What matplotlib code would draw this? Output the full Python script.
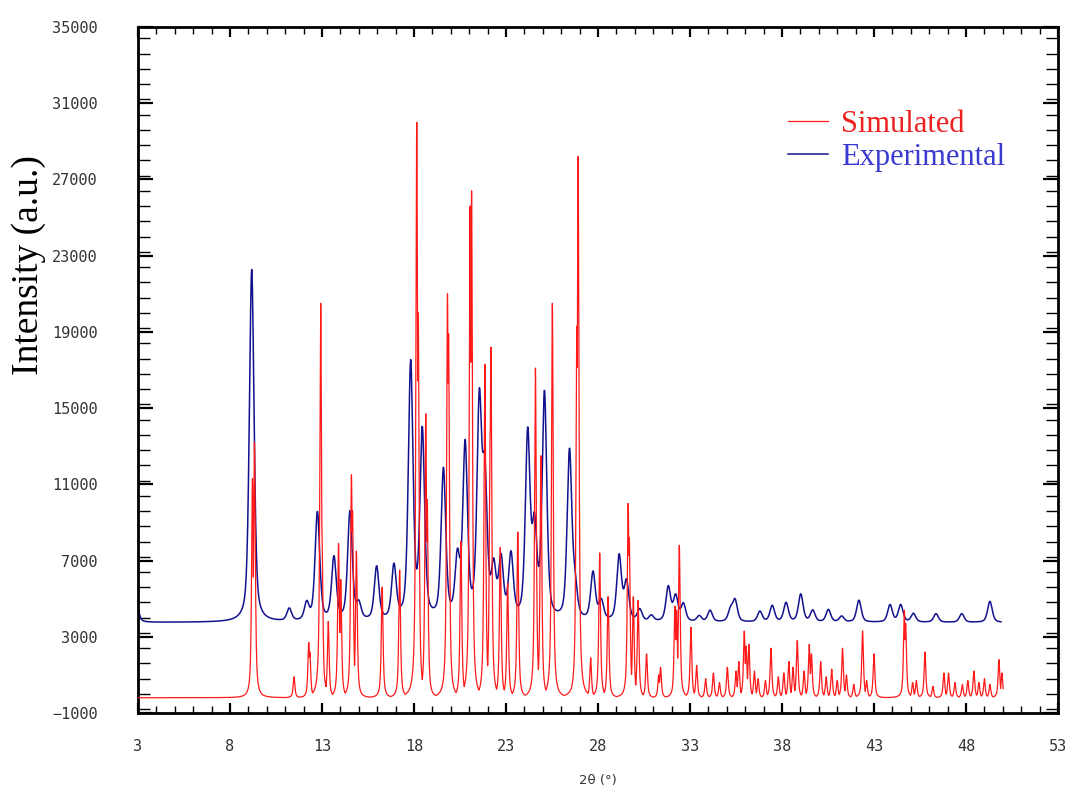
import numpy as np
import matplotlib.pyplot as plt
from matplotlib.ticker import MultipleLocator

# --- data (peak position in 2theta, height above baseline) ---
sim_pos = [9.22, 9.33, 11.48, 12.28, 12.34, 12.93, 13.00, 13.34, 13.90, 14.02,
           14.60, 14.66, 14.87, 16.27, 17.22, 18.15, 18.23, 18.64, 18.72, 19.82,
           19.88, 20.55, 21.05, 21.13, 21.85, 22.14, 22.18, 22.69, 23.09, 23.64,
           24.60, 24.90, 25.52, 26.85, 26.92, 27.60, 28.09, 28.55, 29.64, 29.70,
           29.92, 30.18, 30.64, 31.30, 31.40, 32.18, 32.27, 32.42, 33.05, 33.36,
           33.85, 34.27, 34.60, 35.03, 35.50, 35.65, 35.95, 36.05, 36.20, 36.50,
           36.70, 37.10, 37.40, 37.80, 38.10, 38.37, 38.60, 38.83, 39.20, 39.48,
           39.60, 40.10, 40.40, 40.70, 41.00, 41.29, 41.50, 41.90, 42.38, 42.60,
           43.00, 44.65, 44.72, 45.10, 45.30, 45.77, 46.20, 46.80, 47.05, 47.40,
           47.80, 48.10, 48.43, 48.70, 49.00, 49.30, 49.79, 49.95]
sim_height = [11500, 13400, 1100, 2900, 2400, 20700, 8800, 4000, 8100, 6200,
              11700, 9800, 7700, 5800, 6700, 30200, 20200, 14900, 10400, 21200,
              19100, 8200, 25800, 26600, 17500, 13900, 18400, 7900, 6000, 8700,
              17300, 12700, 20700, 19500, 28400, 2100, 7600, 5300, 10200, 8400,
              5300, 5100, 2300, 1200, 1600, 4800, 4600, 8000, 3700, 1700,
              1000, 1300, 800, 1600, 1400, 1900, 3500, 2700, 2800, 1400,
              1000, 900, 2600, 1100, 1300, 1900, 1600, 3000, 1400, 2800,
              2300, 1900, 1100, 1500, 900, 2600, 1200, 700, 3500, 900,
              2300, 4600, 3900, 800, 900, 2400, 600, 1300, 1300, 800,
              700, 900, 1400, 800, 1000, 700, 2000, 1300]
sim_base = -200

exp_pos = [2.90, 9.18, 11.22, 12.17, 12.75, 13.65, 14.52, 15.00, 15.97, 16.91,
           17.82, 18.45, 19.60, 20.36, 20.78, 21.55, 21.85, 22.33, 22.73, 23.27,
           24.18, 24.55, 25.09, 26.45, 26.75, 27.73, 28.18, 29.15, 29.55, 30.27,
           30.90, 31.82, 32.22, 32.64, 33.50, 34.09, 35.20, 35.45, 36.80, 37.47,
           38.22, 39.02, 39.67, 40.52, 41.24, 42.18, 43.87, 44.45, 45.14, 46.37,
           47.77, 49.30]
exp_height = [1100, 18500, 650, 900, 5700, 3300, 5700, 800, 2800, 2800,
              13400, 9800, 7800, 3000, 9000, 11000, 7000, 2500, 3000, 3300,
              9600, 4500, 11800, 8800, 1500, 2500, 1000, 3400, 2000, 600,
              300, 1800, 1300, 900, 300, 600, 600, 1100, 550, 850,
              1000, 1450, 600, 650, 300, 1150, 900, 900, 450, 450,
              450, 1100]
exp_base = 3750

x_ticks = [3, 8, 13, 18, 23, 28, 33, 38, 43, 48, 53]
y_ticks = [-1000, 3000, 7000, 11000, 15000, 19000, 23000, 27000, 31000, 35000]


def peak_stack(x, pos, height, fwhm, eta, combine="sum"):
    hw = fwhm / 2.0
    rows = []
    for p, h in zip(pos, height):
        d = x - p
        lor = 1.0 / (1.0 + (d / hw) ** 2)
        gau = np.exp(-np.log(2.0) * (d / hw) ** 2)
        rows.append(h * (eta * lor + (1 - eta) * gau))
    rows = np.array(rows)
    # simulated lines are sharp: keep each drawn top at its read height
    return rows.max(axis=0) if combine == "max" else rows.sum(axis=0)


x_sim = np.round(np.arange(3.0, 50.03, 0.01), 2)
y_sim = sim_base + peak_stack(x_sim, sim_pos, sim_height, 0.11, 0.8, "max")
x_exp = np.round(np.arange(3.0, 49.91, 0.02), 2)
y_exp = exp_base + peak_stack(x_exp, exp_pos, exp_height, 0.30, 0.5)

fig = plt.figure(figsize=(10.7, 7.87), dpi=100)
ax = fig.add_axes([138 / 1070, 74 / 787, 920 / 1070, 686 / 787])

l_exp, = ax.plot(x_exp, y_exp, color="#12128f", lw=1.1, zorder=2)
l_sim, = ax.plot(x_sim, y_sim, color="#ff1a1a", lw=0.9, zorder=3)

ax.set_xlim(3, 53)
ax.set_ylim(-1000, 35000)
ax.set_xticks(x_ticks)
ax.set_yticks(y_ticks)
ax.xaxis.set_minor_locator(MultipleLocator(1))
ax.yaxis.set_minor_locator(MultipleLocator(800))

for sp in ax.spines.values():
    sp.set_linewidth(2.0)
ax.tick_params(which="both", direction="in", top=True, right=True, color="black")
ax.tick_params(axis="x", which="major", length=7, width=1.6, pad=19)
ax.tick_params(axis="x", which="minor", length=5, width=1.0)
ax.tick_params(axis="y", which="major", length=11, width=1.6, pad=29)
ax.tick_params(axis="y", which="minor", length=8.5, width=1.0)
for lab in ax.get_xticklabels() + ax.get_yticklabels():
    lab.set_family("DejaVu Sans Mono")
    lab.set_fontsize(11)
    lab.set_color("#333333")

ax.set_xlabel("2θ (°)", fontsize=9.5, color="#333333", family="DejaVu Sans", labelpad=14)
fig.text(29 / 1070, 1 - 265 / 787, "Intensity (a.u.)", rotation=90, ha="center",
         va="center", fontsize=27, family="Liberation Serif", color="black")

leg = fig.legend([l_sim, l_exp], ["Simulated", "Experimental"], loc="upper left",
                 bbox_to_anchor=(788 / 1070, 1 - 110 / 787), frameon=False,
                 prop={"family": "Liberation Serif", "size": 22},
                 handlelength=1.3, handletextpad=0.45, labelspacing=0.12,
                 borderpad=0, borderaxespad=0)
for txt, col in zip(leg.get_texts(), ["#ee2020", "#3a3ad0"]):
    txt.set_color(col)

fig.savefig("out.png", dpi=100)
